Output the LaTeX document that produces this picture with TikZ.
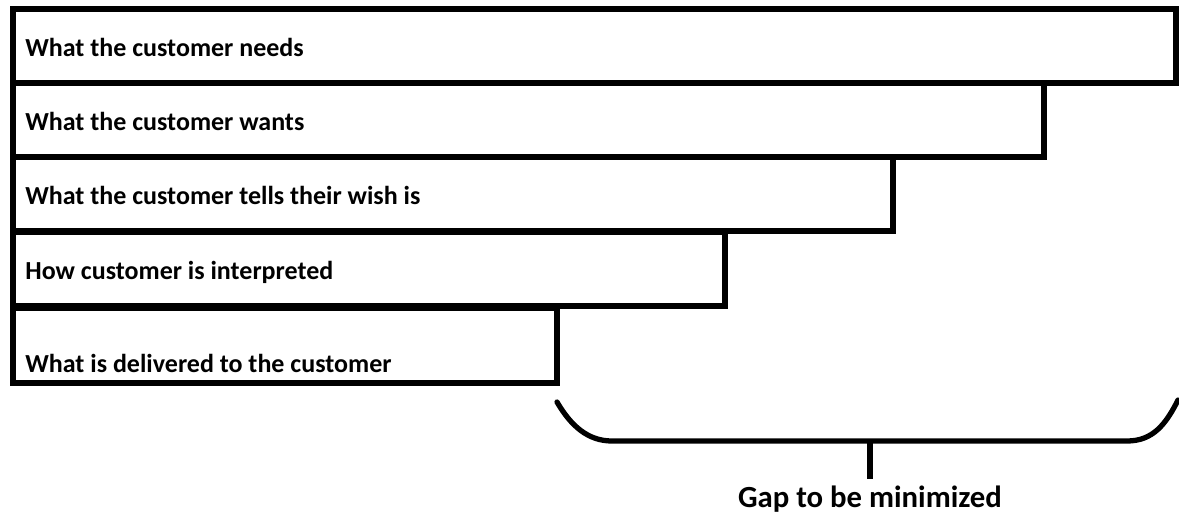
\documentclass[tikz,border=0pt]{standalone}
\usepackage{fontspec}
\setmainfont{Carlito}
\usetikzlibrary{calc}

\tikzset{
  bar/.style={draw, rectangle, line width=3pt, inner sep=0pt, outer sep=0pt,
    anchor=north west, minimum height=74*0.02cm},
  lbl/.style={inner sep=0pt, anchor=base west, font=\fontsize{14.8}{17}\selectfont\bfseries},
}

\begin{document}
\begin{tikzpicture}[x=0.02cm, y=-0.02cm, line join=miter]
		\useasboundingbox (0,0) rectangle (1179,514);
		
		%========================
		% Stacked bars
		%========================
		\node[bar, minimum width=1163*0.02cm] (needs)   at (13,9)   {};
		\node[bar, minimum width=1031*0.02cm] (wants)   at (13,83)  {};
		\node[bar, minimum width=880*0.02cm]  (tells)   at (13,157) {};
		\node[bar, minimum width=712*0.02cm]  (interp)  at (13,232) {};
		\node[bar, minimum width=544*0.02cm, minimum height=75*0.02cm] (deliv) at (13,308) {};
		
		% labels
		\node[lbl] (tneeds)  at ($(needs.west)+(12,10)$)  {What the customer needs};
		\node[lbl] (twants)  at ($(wants.west)+(12,10)$)  {What the customer wants};
		\node[lbl] (ttells)  at ($(tells.west)+(12,10)$)  {What the customer tells their wish is};
		\node[lbl] (tinterp) at ($(interp.west)+(12,10)$) {How customer is interpreted};
		\node[lbl] (tdeliv)  at ($(deliv.south west)+(12,-11)$) {What is delivered to the customer};
		
		%========================
		% Bracket for the gap
		%========================
		\coordinate (bl) at ($(deliv.south east)+(0,19)$);
		\coordinate (br) at ($(needs.east |- bl)+(2,-2)$);
		\coordinate (bmid) at (870,441);
		\node[inner sep=0pt, anchor=base, font=\fontsize{17.5}{20}\selectfont\bfseries]
		  (gap) at (870,507) {Gap to be minimized};
		
		\draw[line width=3pt, line cap=round]
		  (bl) .. controls +(14,24) and +(-24,0) .. (612,441)
		  -- (1127,441) .. controls +(26,0) and +(-12,24) .. (br);
		\draw[line width=3pt] (bmid) -- ($(gap.north)+(0,-6)$);
		
	\end{tikzpicture}
\end{document}
